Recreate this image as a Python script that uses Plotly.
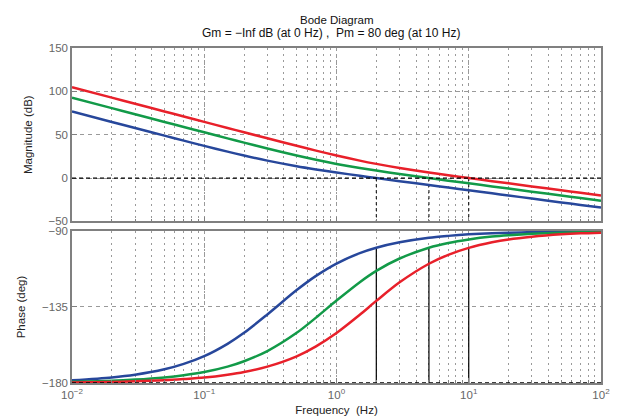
import plotly.graph_objects as go

# Frequency samples (Hz)
freq = [0.01, 0.02, 0.03, 0.05, 0.07, 0.1, 0.15, 0.2, 0.3, 0.5, 0.7, 1,
        1.5, 2, 3, 5, 7, 10, 15, 20, 30, 50, 70, 100]

# Magnitude (dB)
mag_blue = [76.77, 64.74, 57.72, 48.90, 43.14, 37.11, 30.46, 25.96, 20.08, 13.64, 9.96, 6.39,
            2.60, 0.00, -3.60, -8.07, -11.00, -14.11, -17.63, -20.13, -23.65, -28.09, -31.01, -34.11]
mag_green = [92.69, 80.65, 73.61, 64.74, 58.91, 52.74, 45.77, 40.87, 34.09, 25.96, 21.03, 16.32,
             11.60, 8.59, 4.66, 0.00, -2.99, -6.12, -9.66, -12.16, -15.69, -20.13, -23.05, -26.15]
mag_red = [104.79, 92.75, 85.71, 76.84, 71.00, 64.81, 57.78, 52.81, 45.83, 37.17, 31.62, 26.00,
           20.11, 16.34, 11.61, 6.40, 3.23, 0.00, -3.60, -6.12, -9.66, -14.11, -17.03, -20.13]

# Phase (deg)
ph_blue = [-178.4, -176.7, -175.1, -171.9, -168.7, -164.1, -156.8, -150.3, -139.4, -125.0, -116.6, -109.3,
           -103.1, -99.9, -96.7, -94.0, -92.9, -92.0, -91.3, -91.0, -90.7, -90.4, -90.3, -90.2]
ph_green = [-179.3, -178.7, -178.0, -176.7, -175.4, -173.5, -170.3, -167.1, -161.1, -150.3, -141.3, -131.2,
            -120.3, -113.6, -106.3, -99.9, -97.1, -95.0, -93.3, -92.5, -91.7, -91.0, -90.7, -90.5]
ph_red = [-179.7, -179.4, -179.0, -178.4, -177.7, -176.8, -175.1, -173.5, -170.3, -164.2, -158.3, -150.4,
          -139.6, -131.4, -120.4, -109.4, -104.1, -100.0, -96.7, -95.0, -93.4, -92.0, -91.4, -91.0]

# Gain crossover frequencies and phase there
cross_freq = [2, 5, 10]
cross_phase = [-99.9, -99.9, -100.0]

mag_ticks = [-50, 0, 50, 100, 150]
phase_ticks = [-180, -135, -90]
freq_ticks = [0.01, 0.1, 1, 10, 100]
freq_ticktext = ["10<sup>−2</sup>", "10<sup>−1</sup>", "10<sup>0</sup>", "10<sup>1</sup>", "10<sup>2</sup>"]

title_line1 = "Bode Diagram"
title_line2 = "Gm = −Inf dB (at 0 Hz)&nbsp;,&nbsp;&nbsp;Pm = 80 deg (at 10 Hz)"

colors = {"blue": "#27479b", "green": "#129a48", "red": "#e8202a"}

fig = go.Figure()

series = [("blue", mag_blue, ph_blue), ("green", mag_green, ph_green), ("red", mag_red, ph_red)]

# crossover marker lines
vx_top, vy_top, vx_bot, vy_bot = [], [], [], []
for f, p in zip(cross_freq, cross_phase):
    vx_top += [f, f, None]
    vy_top += [0, mag_ticks[0], None]
    vx_bot += [f, f, None]
    vy_bot += [phase_ticks[0], p, None]

fig.add_trace(go.Scatter(x=vx_top, y=vy_top, mode="lines", xaxis="x", yaxis="y",
                         line=dict(color="black", width=1, dash="3px,3px"), showlegend=False))
fig.add_trace(go.Scatter(x=vx_bot, y=vy_bot, mode="lines", xaxis="x2", yaxis="y2",
                         line=dict(color="black", width=1.2), showlegend=False))

for name, m, p in series:
    fig.add_trace(go.Scatter(x=freq, y=m, mode="lines", xaxis="x", yaxis="y",
                             line=dict(color=colors[name], width=2.5, shape="spline", smoothing=0.8),
                             showlegend=False))
    fig.add_trace(go.Scatter(x=freq, y=p, mode="lines", xaxis="x2", yaxis="y2",
                             line=dict(color=colors[name], width=2.5, shape="spline", smoothing=0.8),
                             showlegend=False))

FONT = "Liberation Sans, Arial, sans-serif"
gridc = "#9a9a9a"
axis_line = "#808080"
tickfont = dict(family=FONT, size=11.5, color="#666666")
xcommon = dict(type="log", range=[-2, 2], tickvals=freq_ticks, ticktext=freq_ticktext,
               showgrid=True, gridcolor=gridc, griddash="3px,4px",
               gridwidth=1, showline=True, linecolor=axis_line, linewidth=1.5, mirror=True,
               ticks="inside", ticklen=5, tickcolor=axis_line,
               minor=dict(dtick="D1", showgrid=True, gridcolor=gridc, griddash="2px,4px", gridwidth=1,
                          ticks="inside", ticklen=3, tickcolor=axis_line),
               zeroline=False, tickfont=tickfont)

fig.update_layout(
    width=620, height=419,
    margin=dict(l=63, r=27, t=40, b=39),
    paper_bgcolor="white", plot_bgcolor="white",
    font=dict(family=FONT, size=11.5, color="#222222"),
    xaxis=dict(domain=[0, 1], anchor="y", showticklabels=False, **xcommon),
    xaxis2=dict(domain=[0, 1], anchor="y2",
                title=dict(text="Frequency&nbsp;&nbsp;(Hz)", standoff=6,
                           font=dict(size=11.5, color="#222222")),
                **xcommon),
    yaxis=dict(domain=[0.4824, 1], anchor="x", range=[-50, 150], tickvals=mag_ticks,
               showgrid=True, gridcolor=gridc, griddash="4px,4px", showline=True, linecolor=axis_line,
               linewidth=1.5, mirror=True, ticks="inside", ticklen=5, tickcolor=axis_line,
               zeroline=False, tickfont=tickfont,
               title=dict(text="Magnitude (dB)", standoff=13, font=dict(size=11.5, color="#222222"))),
    yaxis2=dict(domain=[0, 0.4538], anchor="x2", range=[-180, -90], tickvals=phase_ticks,
                showgrid=True, gridcolor=gridc, griddash="4px,4px", showline=True, linecolor=axis_line,
                linewidth=1.5, mirror=True, ticks="inside", ticklen=5, tickcolor=axis_line,
                zeroline=False, tickfont=tickfont,
                title=dict(text="Phase (deg)", standoff=14, font=dict(size=11.5, color="#222222"))),
)

# title lines
fig.add_annotation(text=title_line1, xref="paper", yref="paper", x=0.5, y=1 + 28 / 340,
                   showarrow=False, xanchor="center", yanchor="middle",
                   font=dict(family=FONT, size=11.5, color="#111111"))
fig.add_annotation(text=title_line2, xref="paper", yref="paper", x=0.49, y=1 + 15 / 340,
                   showarrow=False, xanchor="center", yanchor="middle",
                   font=dict(family=FONT, size=12, color="#111111"))

# reference lines at 0 dB and -180 deg
fig.add_shape(type="line", xref="x domain", yref="y", x0=0, x1=1, y0=0, y1=0,
              line=dict(color="black", width=1.2, dash="4px,3px"))
fig.add_shape(type="line", xref="x2 domain", yref="y2", x0=0, x1=1, y0=phase_ticks[0], y1=phase_ticks[0],
              line=dict(color="black", width=1.5, dash="4px,3px"))

fig.write_html("out.html")
